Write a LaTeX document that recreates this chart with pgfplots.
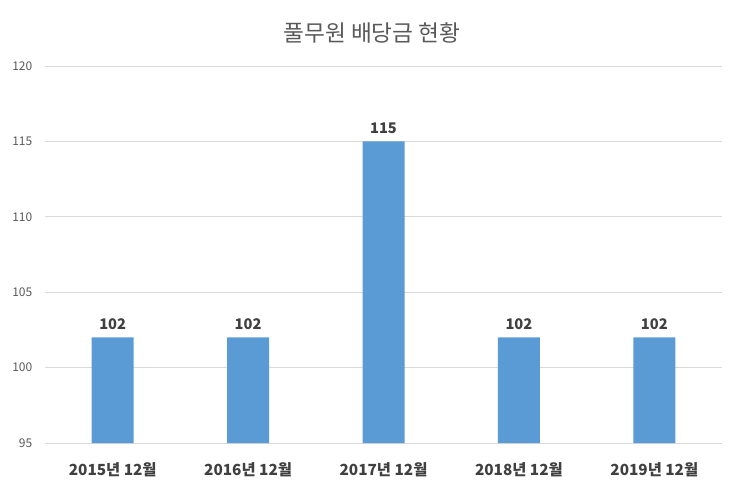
\documentclass[border=0pt]{standalone}
\usepackage{fontspec}
\setmainfont{Noto Sans CJK KR}
\newfontfamily\kr{Noto Sans CJK KR}
\usepackage{pgfplots}
\pgfplotsset{compat=1.18}

\definecolor{barblue}{HTML}{5B9BD5}
\definecolor{gridgray}{HTML}{D9D9D9}
\definecolor{ticktext}{HTML}{595959}
\definecolor{labeltext}{HTML}{404040}

\begin{document}
\begin{tikzpicture}
  \begin{axis}[
      name=main,
      scale only axis,
      width=507.75pt,
      height=282.75pt,
      ybar,
      bar width=31.5pt,
      xmin=-0.5, xmax=4.5,
      ymin=95, ymax=120,
      ytick={95,100,...,120},
      xtick=data,
      xticklabels={2015년\ 12월,2016년\ 12월,2017년\ 12월,2018년\ 12월,2019년\ 12월},
      x tick label style={font=\fontsize{11.5}{13}\selectfont\bfseries, text=labeltext, yshift=-11pt},
      y tick label style={font=\fontsize{9}{10}\selectfont, text=ticktext, xshift=-6pt},
      /pgf/number format/assume math mode=true,
      ymajorgrids,
      grid style={gridgray, line width=0.75pt},
      axis line style={draw=none},
      major tick length=0pt,
      nodes near coords,
      every node near coord/.append style={font=\fontsize{11}{12}\selectfont\bfseries, text=labeltext, yshift=2pt},
      clip=false,
  ]
  \addplot [fill=barblue, draw=none] coordinates {
      (0,102) (1,102) (2,115) (3,102) (4,102)
  };
  \end{axis}
  \path (main.south west) ++(-33.75pt,-40.5pt) coordinate (bbsw);
  \path (main.north east) ++(13.5pt,49.5pt) coordinate (bbne);
  \path (bbsw) rectangle (bbne);
  \path (bbsw |- bbne) ++(279pt,-24.75pt)
    node[font=\kr\fontsize{17}{19}\selectfont, text=ticktext] {풀무원 배당금 현황};
\end{tikzpicture}
\end{document}
